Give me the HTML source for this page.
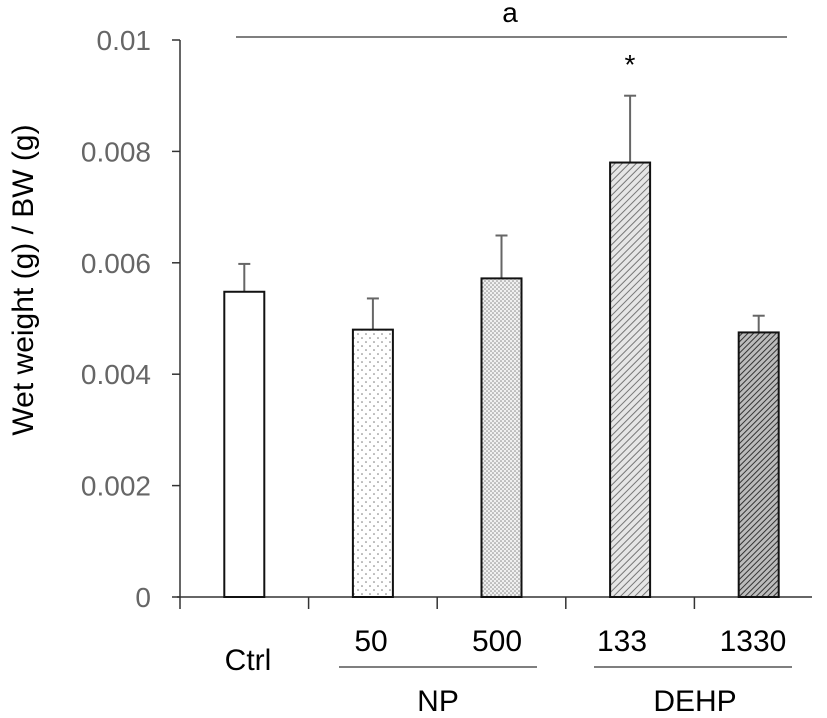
<!DOCTYPE html>
<html><head><meta charset="utf-8"><style>
body{margin:0;background:#fff}
svg text{font-family:"Liberation Sans",Arial,sans-serif}
</style></head><body>
<svg width="827" height="713">
<defs>
<pattern id="dots1" width="8" height="8" patternUnits="userSpaceOnUse"><rect width="8" height="8" fill="#fff"/><circle cx="2" cy="2" r="0.8" fill="#777"/><circle cx="6" cy="6" r="0.8" fill="#777"/></pattern>
<pattern id="dots2" width="4" height="4" patternUnits="userSpaceOnUse"><rect width="4" height="4" fill="#f0f0f0"/><circle cx="1" cy="1" r="0.8" fill="#888"/><circle cx="3" cy="3" r="0.8" fill="#888"/></pattern>
<pattern id="hatch1" width="5" height="5" patternUnits="userSpaceOnUse" patternTransform="rotate(45)"><rect width="5" height="5" fill="#e6e6e6"/><line x1="0" y1="0" x2="0" y2="5" stroke="#777" stroke-width="2"/></pattern>
<pattern id="hatch2" width="4" height="4" patternUnits="userSpaceOnUse" patternTransform="rotate(45)"><rect width="4" height="4" fill="#bbb"/><line x1="0" y1="0" x2="0" y2="4" stroke="#333" stroke-width="2"/></pattern>
</defs>
<g id="plot"></g>
<text x="33" y="280" font-size="30" text-anchor="middle" transform="rotate(-90 33 280)" fill="#000">Wet weight (g) / BW (g)</text>
<line x1="236" y1="37" x2="787" y2="37" stroke="#555" stroke-width="1.5"/>
<text x="510" y="22" font-size="28" text-anchor="middle">a</text>
<text x="630" y="74" font-size="28" text-anchor="middle">*</text>
<text x="248" y="670" font-size="30" text-anchor="middle">Ctrl</text>
<text x="371" y="651" font-size="30" text-anchor="middle">50</text>
<text x="497" y="651" font-size="30" text-anchor="middle">500</text>
<text x="622" y="651" font-size="30" text-anchor="middle">133</text>
<text x="753" y="651" font-size="30" text-anchor="middle">1330</text>
<line x1="339" y1="667" x2="537" y2="667" stroke="#555" stroke-width="1.5"/>
<line x1="594" y1="667" x2="792" y2="667" stroke="#555" stroke-width="1.5"/>
<text x="438" y="711" font-size="30" text-anchor="middle">NP</text>
<text x="695" y="711" font-size="30" text-anchor="middle">DEHP</text>
</svg>
<script>
const categories=["Ctrl","NP 50","NP 500","DEHP 133","DEHP 1330"];
const means=[0.00548,0.0048,0.00572,0.0078,0.00475];
const errors=[0.0005,0.00056,0.00077,0.0012,0.0003];
const yTicks=[0,0.002,0.004,0.006,0.008,0.01];
const tickLabels=["0","0.002","0.004","0.006","0.008","0.01"];
const fills=["#fff","url(#dots1)","url(#dots2)","url(#hatch1)","url(#hatch2)"];
const NS="http://www.w3.org/2000/svg";
const g=document.getElementById("plot");
const y0=597,y1=40,xL=180,band=128.6,bw=40;
const yS=v=>y0-(v/0.01)*(y0-y1);
const xC=i=>xL+band*(i+0.5);
function mk(t,a){const e=document.createElementNS(NS,t);for(const k in a)e.setAttribute(k,a[k]);g.appendChild(e);return e;}
let e=mk("line",{x1:xL,y1:y1,x2:xL,y2:y0,stroke:"#333","stroke-width":1.5});


e=mk("line",{x1:xL-3,y1:y0,x2:812,y2:y0,stroke:"#333","stroke-width":1.5});


yTicks.forEach((v,i)=>{
 const t=mk("line",{x1:xL-8,y1:yS(v),x2:xL,y2:yS(v),stroke:"#333","stroke-width":1.5});
 
 
 const l=mk("text",{x:151,y:yS(v)+10,"font-size":28,"text-anchor":"end",fill:"#666"});
 l.textContent=tickLabels[i];
 
 
});
for(let i=0;i<categories.length;i++){
 const t=mk("line",{x1:xL+band*i,y1:y0,x2:xL+band*i,y2:y0+12,stroke:"#333","stroke-width":1.5});
 
 
}
categories.forEach((c,i)=>{
 const cx=xC(i),top=yS(means[i]),et=yS(means[i]+errors[i]);
 const el=mk("line",{x1:cx,y1:top,x2:cx,y2:et,stroke:"#666","stroke-width":2});
 
 
 const cap=mk("line",{x1:cx-6,y1:et,x2:cx+6,y2:et,stroke:"#666","stroke-width":2});
 
 
 const r=mk("rect",{x:cx-bw/2,y:top,width:bw,height:y0-top,fill:fills[i],stroke:"#111","stroke-width":2});
 
 
});
</script>
</body></html>
